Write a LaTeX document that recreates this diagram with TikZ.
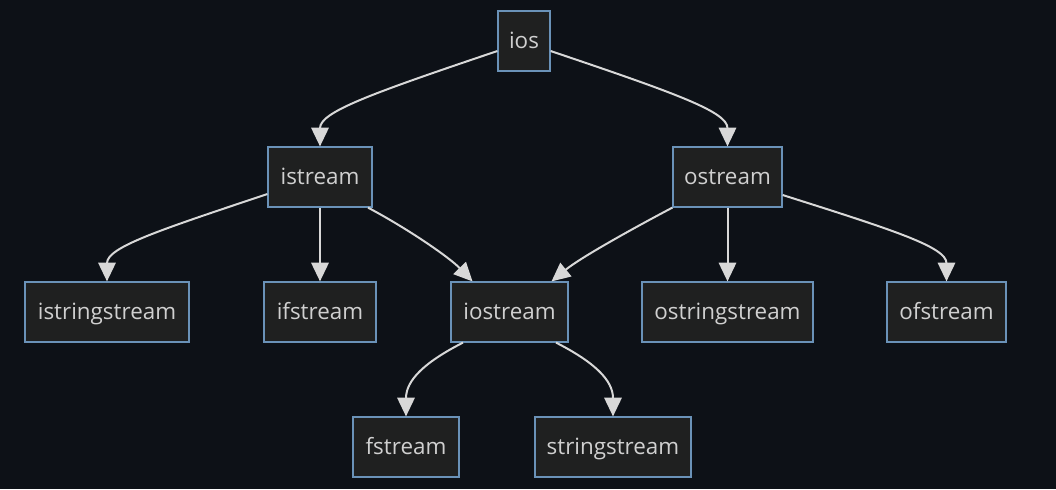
\documentclass[tikz,border=0pt]{standalone}
\usepackage{fontspec}
\setmainfont{Open Sans}
\usetikzlibrary{arrows.meta,calc}
\definecolor{bg}{HTML}{0D1117}
\definecolor{boxfill}{HTML}{1F2020}
\definecolor{boxline}{HTML}{6A92B8}
\definecolor{edge}{HTML}{D8D8D8}
\definecolor{txt}{HTML}{D0D0D0}
\begin{document}
\begin{tikzpicture}[x=0.75pt,y=-0.75pt,
  box/.style={draw=boxline,fill=boxfill,line width=0.9pt,text=txt,minimum height=45pt,inner sep=0pt,text height=13.5pt,text depth=2pt,font=\fontsize{16.8}{20}\selectfont},
  conn/.style={draw=edge,line width=1.5pt,-{Triangle[length=14pt,width=13pt]}}]
\fill[bg] (0,0) rectangle (1056,489);
\useasboundingbox (0,0) rectangle (1056,489);
\node[box,minimum width=39pt] (ios) at (524,41) {ios};
\node[box,minimum width=78pt] (istream) at (320,177) {istream};
\node[box,minimum width=81.75pt] (ostream) at (727.5,177) {ostream};
\node[box,minimum width=123pt] (istringstream) at (107,312) {istringstream};
\node[box,minimum width=84pt] (ifstream) at (320,312) {ifstream};
\node[box,minimum width=87.75pt] (iostream) at (509.5,312) {iostream};
\node[box,minimum width=128.25pt] (ostringstream) at (727.5,312) {ostringstream};
\node[box,minimum width=89.25pt] (ofstream) at (946.5,312) {ofstream};
\node[box,minimum width=79.5pt] (fstream) at (406,447) {fstream};
\node[box,minimum width=117pt] (stringstream) at (613,447) {stringstream};

\draw[conn] ([yshift=-7.5pt]ios.west) .. controls (370,94) and (320,112) .. (istream.north);
\draw[conn] ([yshift=-7.5pt]ios.east) .. controls (678,94) and (727.5,112) .. (ostream.north);
\draw[conn] ([yshift=-12.75pt]istream.west) .. controls (160,230) and (107,247) .. (istringstream.north);
\draw[conn] (istream) -- (ifstream);
\draw[conn] ([xshift=36pt]istream.south) .. controls (410,230) and (450,258) .. ([xshift=-27.75pt]iostream.north);
\draw[conn] (ostream.south west) .. controls (630,230) and (580,258) .. ([xshift=31.5pt]iostream.north);
\draw[conn] (ostream) -- (ostringstream);
\draw[conn] ([yshift=-13.5pt]ostream.east) .. controls (893,230) and (946.5,247) .. (ofstream.north);
\draw[conn] ([xshift=-34.9pt]iostream.south) .. controls (425,362) and (406,380) .. (fstream.north);
\draw[conn] ([xshift=34.9pt]iostream.south) .. controls (594,362) and (613,380) .. (stringstream.north);
\end{tikzpicture}
\end{document}
